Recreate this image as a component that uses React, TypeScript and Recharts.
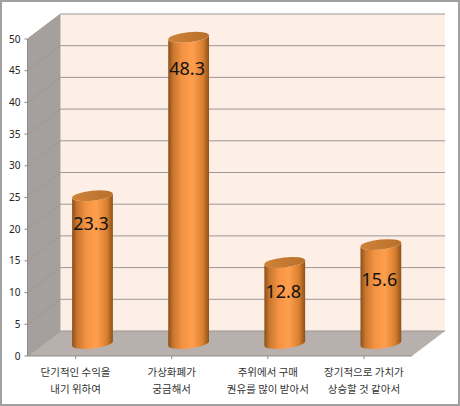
import { BarChart, Bar, XAxis, YAxis, CartesianGrid, ReferenceArea, LabelList } from "recharts";

const categories = ["단기적인 수익을|내기 위하여", "가상화폐가|궁금해서", "주위에서 구매|권유를 많이 받아서", "장기적으로 가치가|상승할 것 같아서"];
const values = [23.3, 48.3, 12.8, 15.6];
const yTicks = [0, 5, 10, 15, 20, 25, 30, 35, 40, 45, 50];

const data = categories.map((name, i) => ({ name, value: values[i] }));

// depth of the fake 3d box
const DX = 33;
const DY = 25;
const TILT = 6;
const TILT_RAD = (TILT * Math.PI) / 180;
const RY = 5;
const LABEL_DROP = [27, 31, 28.5, 34];

function Box({ x, y, width, height }: any) {
  const bottom = y + height;
  return (
    <g>
      <polygon points={`${x + DX},${y - DY} ${x + width + DX},${y - DY} ${x + width + DX},${bottom - DY} ${x + DX},${bottom - DY}`} fill="#fdeee6" />
      <polygon points={`${x},${y} ${x + DX},${y - DY} ${x + DX},${bottom - DY} ${x},${bottom}`} fill="#a5a09d" />
      <polygon points={`${x},${bottom} ${x + width},${bottom} ${x + width + DX},${bottom - DY} ${x + DX},${bottom - DY}`} fill="#b7b0ad" />
    </g>
  );
}

function GridLine({ x1, x2, y1 }: any) {
  return (
    <g>
      <polyline points={`${x1},${y1} ${x1 + DX},${y1 - DY} ${x2 + DX},${y1 - DY}`} fill="none" stroke="#9c9896" strokeWidth={1} />
    </g>
  );
}

function Cylinder({ x, y, width, height }: any) {
  const r = width / 2;
  const cx = x + r + DX / 2;
  const top = y - DY / 2;
  const bot = y + height - DY / 2;
  const ex = r * Math.cos(TILT_RAD);
  const ey = r * Math.sin(TILT_RAD);
  const body = `M${cx - ex},${top + ey} L${cx - ex},${bot + ey} A${r},${RY} ${-TILT} 0 0 ${cx + ex},${bot - ey} L${cx + ex},${top - ey} A${r},${RY} ${-TILT} 0 1 ${cx - ex},${top + ey} Z`;
  return (
    <g>
      <path d={body} fill="url(#cyl)" />
      <ellipse cx={cx} cy={top} rx={r} ry={RY} fill="url(#cylTop)" transform={`rotate(${-TILT} ${cx} ${top})`} />
    </g>
  );
}

function XTick({ x, y, payload }: any) {
  const lines = String(payload.value).split("|");
  return (
    <g>
      {lines.map((t, i) => (
        <text key={t} x={x} y={y + 15 + i * 17} textAnchor="middle" fontSize={10.5} fill="#333" fontFamily="'Noto Sans CJK KR'">
          {t}
        </text>
      ))}
    </g>
  );
}

function ValueLabel({ x, y, width, value, index }: any) {
  return (
    <text x={x + width / 2 + DX / 2 - 1.5} y={y - DY / 2 + LABEL_DROP[index]} textAnchor="middle" dominantBaseline="central" fontSize={18} fill="#111" fontFamily="'Noto Sans'">
      {value}
    </text>
  );
}

export default function App() {
  return (
    <div style={{ position: "absolute", left: 0, top: 0, width: 460, height: 406, background: "#fff" }}>
      <div style={{ position: "absolute", left: 0, top: 0, width: 456, height: 402, border: "2px solid #a0a0a0" }} />
      <BarChart
        width={460}
        height={406}
        data={data}
        margin={{ top: 39, right: 48, left: 0, bottom: 0 }}
        style={{ position: "absolute", left: 0, top: 0 }}
      >
        <defs>
          <linearGradient id="cyl" x1="0" y1="0" x2="1" y2="0">
            <stop offset="0" stopColor="#8a4e18" />
            <stop offset="0.12" stopColor="#c9762e" />
            <stop offset="0.35" stopColor="#f59343" />
            <stop offset="0.6" stopColor="#ff9f4d" />
            <stop offset="0.85" stopColor="#d97f30" />
            <stop offset="1" stopColor="#8f5218" />
          </linearGradient>
          <linearGradient id="cylTop" x1="0" y1="0" x2="1" y2="0">
            <stop offset="0" stopColor="#d08238" />
            <stop offset="1" stopColor="#b8702c" />
          </linearGradient>
        </defs>
        <ReferenceArea y1={0} y2={50} shape={Box} ifOverflow="visible" zIndex={-200} />
        <CartesianGrid vertical={false} horizontal={GridLine} zIndex={-100} />
        <XAxis dataKey="name" height={50} tick={XTick} interval={0} tickSize={3} stroke="#8c8c8c" />
        <YAxis
          width={27.5}
          domain={[0, 50]}
          ticks={yTicks}
          interval={0}
          tickSize={3}
          tickMargin={4}
          stroke="#8c8c8c"
          tick={{ fontSize: 10, fill: "#222", fontFamily: "'Noto Sans'" }}
        />
        <Bar dataKey="value" barSize={41} shape={Cylinder} isAnimationActive={false}>
          <LabelList dataKey="value" content={ValueLabel} />
        </Bar>
      </BarChart>
    </div>
  );
}
